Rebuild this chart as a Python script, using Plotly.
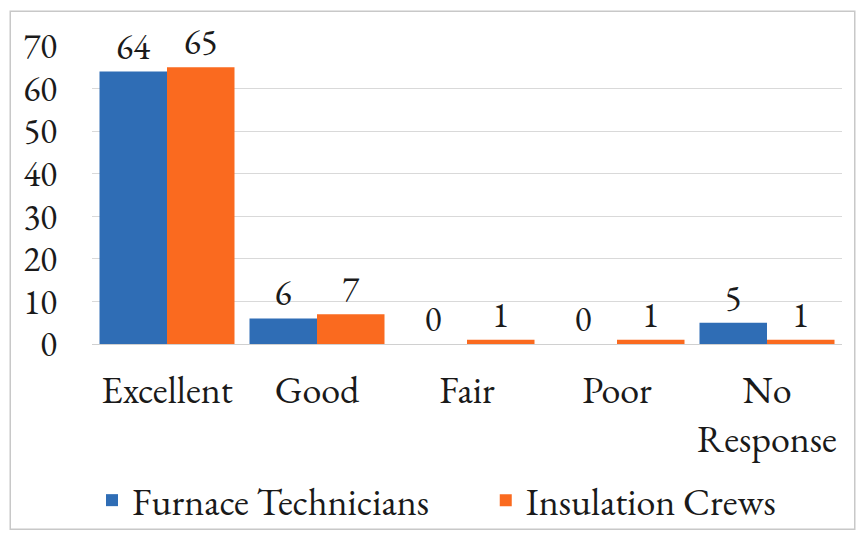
import plotly.graph_objects as go

categories = ["Excellent", "Good", "Fair", "Poor", "No<br>Response"]
furnace = [64, 6, 0, 0, 5]
insulation = [65, 7, 1, 1, 1]
y_ticks = [0, 10, 20, 30, 40, 50, 60, 70]

FONT = "EB Garamond, Garamond, Liberation Serif, serif"
TXT = "#1a1a1a"

fig = go.Figure()
fig.add_trace(go.Bar(
    x=categories, y=furnace, name="Furnace Technicians",
    marker=dict(color="#2F6DB5", line=dict(width=0)),
    text=furnace, textposition="outside", cliponaxis=False,
    textfont=dict(size=35, color=TXT, family=FONT), legend="legend",
))
fig.add_trace(go.Bar(
    x=categories, y=insulation, name="Insulation Crews",
    marker=dict(color="#FA6A1F", line=dict(width=0)),
    text=insulation, textposition="outside", cliponaxis=False,
    textfont=dict(size=35, color=TXT, family=FONT), legend="legend2",
))

leg_common = dict(orientation="h", xanchor="left", y=-0.525, yanchor="middle",
                  font=dict(size=38, family=FONT, color=TXT), itemwidth=30,
                  bgcolor="rgba(0,0,0,0)")

fig.update_layout(
    width=860, height=541,
    paper_bgcolor="white", plot_bgcolor="white",
    margin=dict(l=92, r=18, t=46, b=197, autoexpand=False),
    barmode="group", bargap=0.1, bargroupgap=0,
    font=dict(family=FONT, color=TXT, size=34),
    showlegend=True,
    legend=dict(x=0.0, **leg_common),
    legend2=dict(x=0.525, **leg_common),
    xaxis=dict(showgrid=False, showline=True, linecolor="#d0d0d0", linewidth=1,
               tickfont=dict(size=38, family=FONT, color=TXT), ticks="",
               ticklabelstandoff=12, automargin=False),
    yaxis=dict(range=[0, 70], tickvals=y_ticks, showgrid=True, gridcolor="#d9d9d9",
               gridwidth=1, zeroline=False, showline=False, ticks="",
               tickfont=dict(size=35, family=FONT, color=TXT), ticklabelstandoff=34,
               automargin=False),
    shapes=[dict(type="rect", xref="paper", yref="paper",
                 x0=-0.109, x1=1.017, y0=-0.622, y1=1.117,
                 line=dict(color="#c8c8c8", width=1.5), fillcolor="rgba(0,0,0,0)",
                 layer="below")],
)

fig.write_html("out.html", config={"displayModeBar": False},
               post_script="document.body.style.margin='0';document.body.style.padding='0';")
